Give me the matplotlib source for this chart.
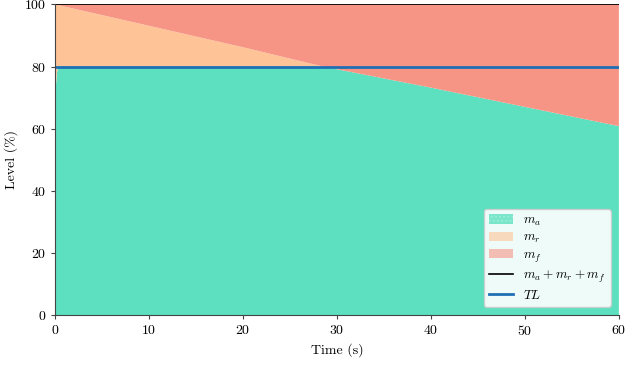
import matplotlib
matplotlib.use("Agg")
import matplotlib.pyplot as plt
from matplotlib.patches import Patch
from matplotlib.lines import Line2D

plt.rcParams['font.family'] = 'serif'
plt.rcParams['font.serif'] = ['cmr10', 'DejaVu Serif']
plt.rcParams['mathtext.fontset'] = 'cm'
plt.rcParams['axes.formatter.use_mathtext'] = True

# Levels (%)
time = [0, 0.1, 0.2, 0.35, 10, 20, 28.5, 40, 50, 60]
m_a = [69, 74, 78, 80, 80, 80, 80, 73.2, 67.0, 60.8]
m_r = [31, 25.93, 21.86, 19.76, 13.1, 6.2, 0, 0, 0, 0]
m_f = [0, 0.07, 0.14, 0.24, 6.9, 13.8, 20, 26.8, 33.0, 39.2]
total = [a + r + f for a, r, f in zip(m_a, m_r, m_f)]
threshold = 80

c_a = '#5ce0bf'
c_r = '#fec497'
c_f = '#f69585'

fig, ax = plt.subplots(figsize=(6.4, 3.65), dpi=100)
fig.subplots_adjust(left=0.086, right=0.967, top=0.988, bottom=0.137)

ax.stackplot(time, m_a, m_r, m_f, colors=[c_a, c_r, c_f], linewidth=0)
ax.plot(time, total, color='black', lw=1.3)
ax.axhline(threshold, color='#1f6fb4', lw=2)

ax.set_xlim(0, 60)
ax.set_ylim(0, 100)
ax.set_xticks(range(0, 61, 10))
ax.set_yticks(range(0, 101, 20))
ax.set_xlabel('Time (s)')
ax.set_ylabel('Level (%)')
for s in ['top', 'right']:
    ax.spines[s].set_visible(False)
for s in ['left', 'bottom']:
    ax.spines[s].set_color('#444444')
ax.tick_params(length=3, color='#444444')

handles = [
    Patch(facecolor=c_a, alpha=0.8, hatch='....', edgecolor='#9ff0d8', lw=0),
    Patch(facecolor=c_r, alpha=0.6, lw=0),
    Patch(facecolor=c_f, alpha=0.6, lw=0),
    Line2D([], [], color='black', lw=1.2),
    Line2D([], [], color='#1f6fb4', lw=2),
]
labels = ['$m_a$', '$m_r$', '$m_f$', '$m_a + m_r + m_f$', '$TL$']
ax.legend(handles, labels, loc='lower right', framealpha=0.9,
          edgecolor='#cccccc', fontsize=9.5, labelspacing=0.3,
          handlelength=1.8, borderaxespad=0.6)

fig.savefig('out.png', dpi=100)
